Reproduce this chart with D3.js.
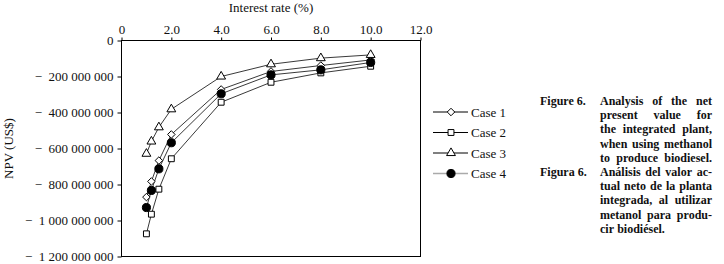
<!DOCTYPE html>
<html><head><meta charset="utf-8">
<script src="https://cdn.jsdelivr.net/npm/d3@7"></script>
<style>
html,body{margin:0;padding:0;background:#fff;}
svg{display:block;}
svg text{font-family:"Liberation Serif",serif !important;fill:#111;}
</style></head>
<body>
<svg id="c" width="724" height="264" font-family="Liberation Serif"></svg>
<script>
const rates = [1.0, 1.2, 1.5, 2.0, 4.0, 6.0, 8.0, 10.0];
const case1 = [-870e6, -783e6, -667e6, -522e6, -272e6, -172e6, -139e6, -108e6];
const case2 = [-1074e6, -965e6, -826e6, -657e6, -343e6, -232e6, -180e6, -143e6];
const case3 = [-629e6, -561e6, -482e6, -382e6, -200e6, -132e6, -98e6, -80e6];
const case4 = [-928e6, -833e6, -713e6, -568e6, -296e6, -191e6, -163e6, -122e6];
const seriesNames = ["Case 1", "Case 2", "Case 3", "Case 4"];
const xTicks = [0, 2, 4, 6, 8, 10, 12];
const yTicks = [0, -200e6, -400e6, -600e6, -800e6, -1000e6, -1200e6];
const xTitle = "Interest rate (%)";
const yTitle = "NPV (US$)";
const captionEn = ["Figure 6.", ["Analysis of the net", "present value for", "the integrated plant,", "when using methanol", "to produce biodiesel."]];
const captionEs = ["Figura 6.", ["Análisis del valor ac-", "tual neto de la planta", "integrada, al utilizar", "metanol para produ-", "cir biodiésel."]];

const svg = d3.select("#c");
const L = 121.5, R = 420.5, T = 40.5, B = 256.5;
const x = d3.scaleLinear().domain([0, 12]).range([L, R]);
const y = d3.scaleLinear().domain([0, -1.2e9]).range([T, B]);

// frame
svg.append("rect").attr("x", L).attr("y", T).attr("width", R - L).attr("height", B - T)
  .attr("fill", "none").attr("stroke", "#000").attr("stroke-width", 1);

// top x axis
const xAxis = d3.axisTop(x).tickValues(xTicks).tickSize(3).tickPadding(4)
  .tickFormat(d => d === 0 ? "0" : d3.format(".1f")(d));
const gx = svg.append("g").attr("transform", `translate(0,${T})`).call(xAxis);
gx.attr("font-family", "Liberation Serif").attr("font-size", 13);
gx.select(".domain").remove();
gx.selectAll("text").attr("fill", "#111");

// left y axis
const fmtY = d => {
  if (d === 0) return "0";
  const s = Math.abs(d).toString().replace(/\B(?=(\d{3})+(?!\d))/g, " ");
  return "\u2212\u2002" + s;
};
const yAxis = d3.axisLeft(y).tickValues(yTicks).tickSize(4).tickPadding(4).tickFormat(fmtY);
const gy = svg.append("g").attr("transform", `translate(${L},0)`).call(yAxis);
gy.attr("font-family", "Liberation Serif").attr("font-size", 13);
gy.select(".domain").remove();
gy.selectAll("text").attr("fill", "#111");

// titles
svg.append("text").attr("x", (L + R) / 2).attr("y", 12).attr("text-anchor", "middle")
  .attr("font-size", 13).text(xTitle);
svg.append("text").attr("transform", `translate(13,${(T + B) / 2}) rotate(-90)`)
  .attr("text-anchor", "middle").attr("font-size", 13).text(yTitle);

// series
const allSeries = [case1, case2, case3, case4];
const line = d3.line().x((d, i) => x(rates[i])).y(d => y(d));
const sym = [
  d3.symbol().type(d3.symbolDiamond2).size(36),
  d3.symbol().type(d3.symbolSquare2).size(44),
  d3.symbol().type(d3.symbolTriangle2).size(56),
  d3.symbol().type(d3.symbolCircle).size(52)
];
function drawMarker(g, k, cx, cy) {
  const p = g.append("path").attr("d", sym[k]()).attr("transform", `translate(${cx},${cy})`)
    .attr("stroke", "#000").attr("stroke-width", 1);
  if (k === 3) p.attr("fill", "#000"); else p.attr("fill", "#fff");
}
allSeries.forEach((vals, k) => {
  svg.append("path").datum(vals).attr("d", line).attr("fill", "none")
    .attr("stroke", "#222").attr("stroke-width", 0.9);
});
allSeries.forEach((vals, k) => {
  const g = svg.append("g");
  vals.forEach((v, i) => drawMarker(g, k, x(rates[i]), y(v)));
});

// legend
const legY = [112, 132.5, 153, 173.5];
seriesNames.forEach((n, k) => {
  const g = svg.append("g");
  g.append("line").attr("x1", 433).attr("x2", 468).attr("y1", legY[k]).attr("y2", legY[k])
    .attr("stroke", k === 3 ? "#aaa" : "#000").attr("stroke-width", k === 3 ? 1.6 : 1);
  drawMarker(g, k, 451, legY[k]);
  g.append("text").attr("x", 471).attr("y", legY[k] + 4.5).attr("font-size", 13).text(n);
});

// caption (justified)
const colL = 600, colR = 712, labX = 540, lh = 14.2, fs = 12;
function caption(cap, y0, isLastPara) {
  svg.append("text").attr("x", labX).attr("y", y0).attr("font-size", fs)
    .attr("font-weight", "bold").text(cap[0]);
  cap[1].forEach((ln, li) => {
    const yy = y0 + li * lh;
    const words = ln.split(" ");
    const last = isLastPara && li === cap[1].length - 1;
    const ws = words.map(w => svg.append("text").attr("x", 0).attr("y", yy)
      .attr("font-size", fs).attr("font-weight", "bold").text(w));
    const widths = ws.map(t => t.node().getComputedTextLength());
    const total = d3.sum(widths);
    let gap = words.length > 1 ? (colR - colL - total) / (words.length - 1) : 0;
    if (last) gap = 3.2;
    let cx = colL;
    ws.forEach((t, i) => { t.attr("x", cx); cx += widths[i] + gap; });
  });
}
caption(captionEn, 105, false);
caption(captionEs, 105 + 5 * lh, true);
</script>
</body></html>
